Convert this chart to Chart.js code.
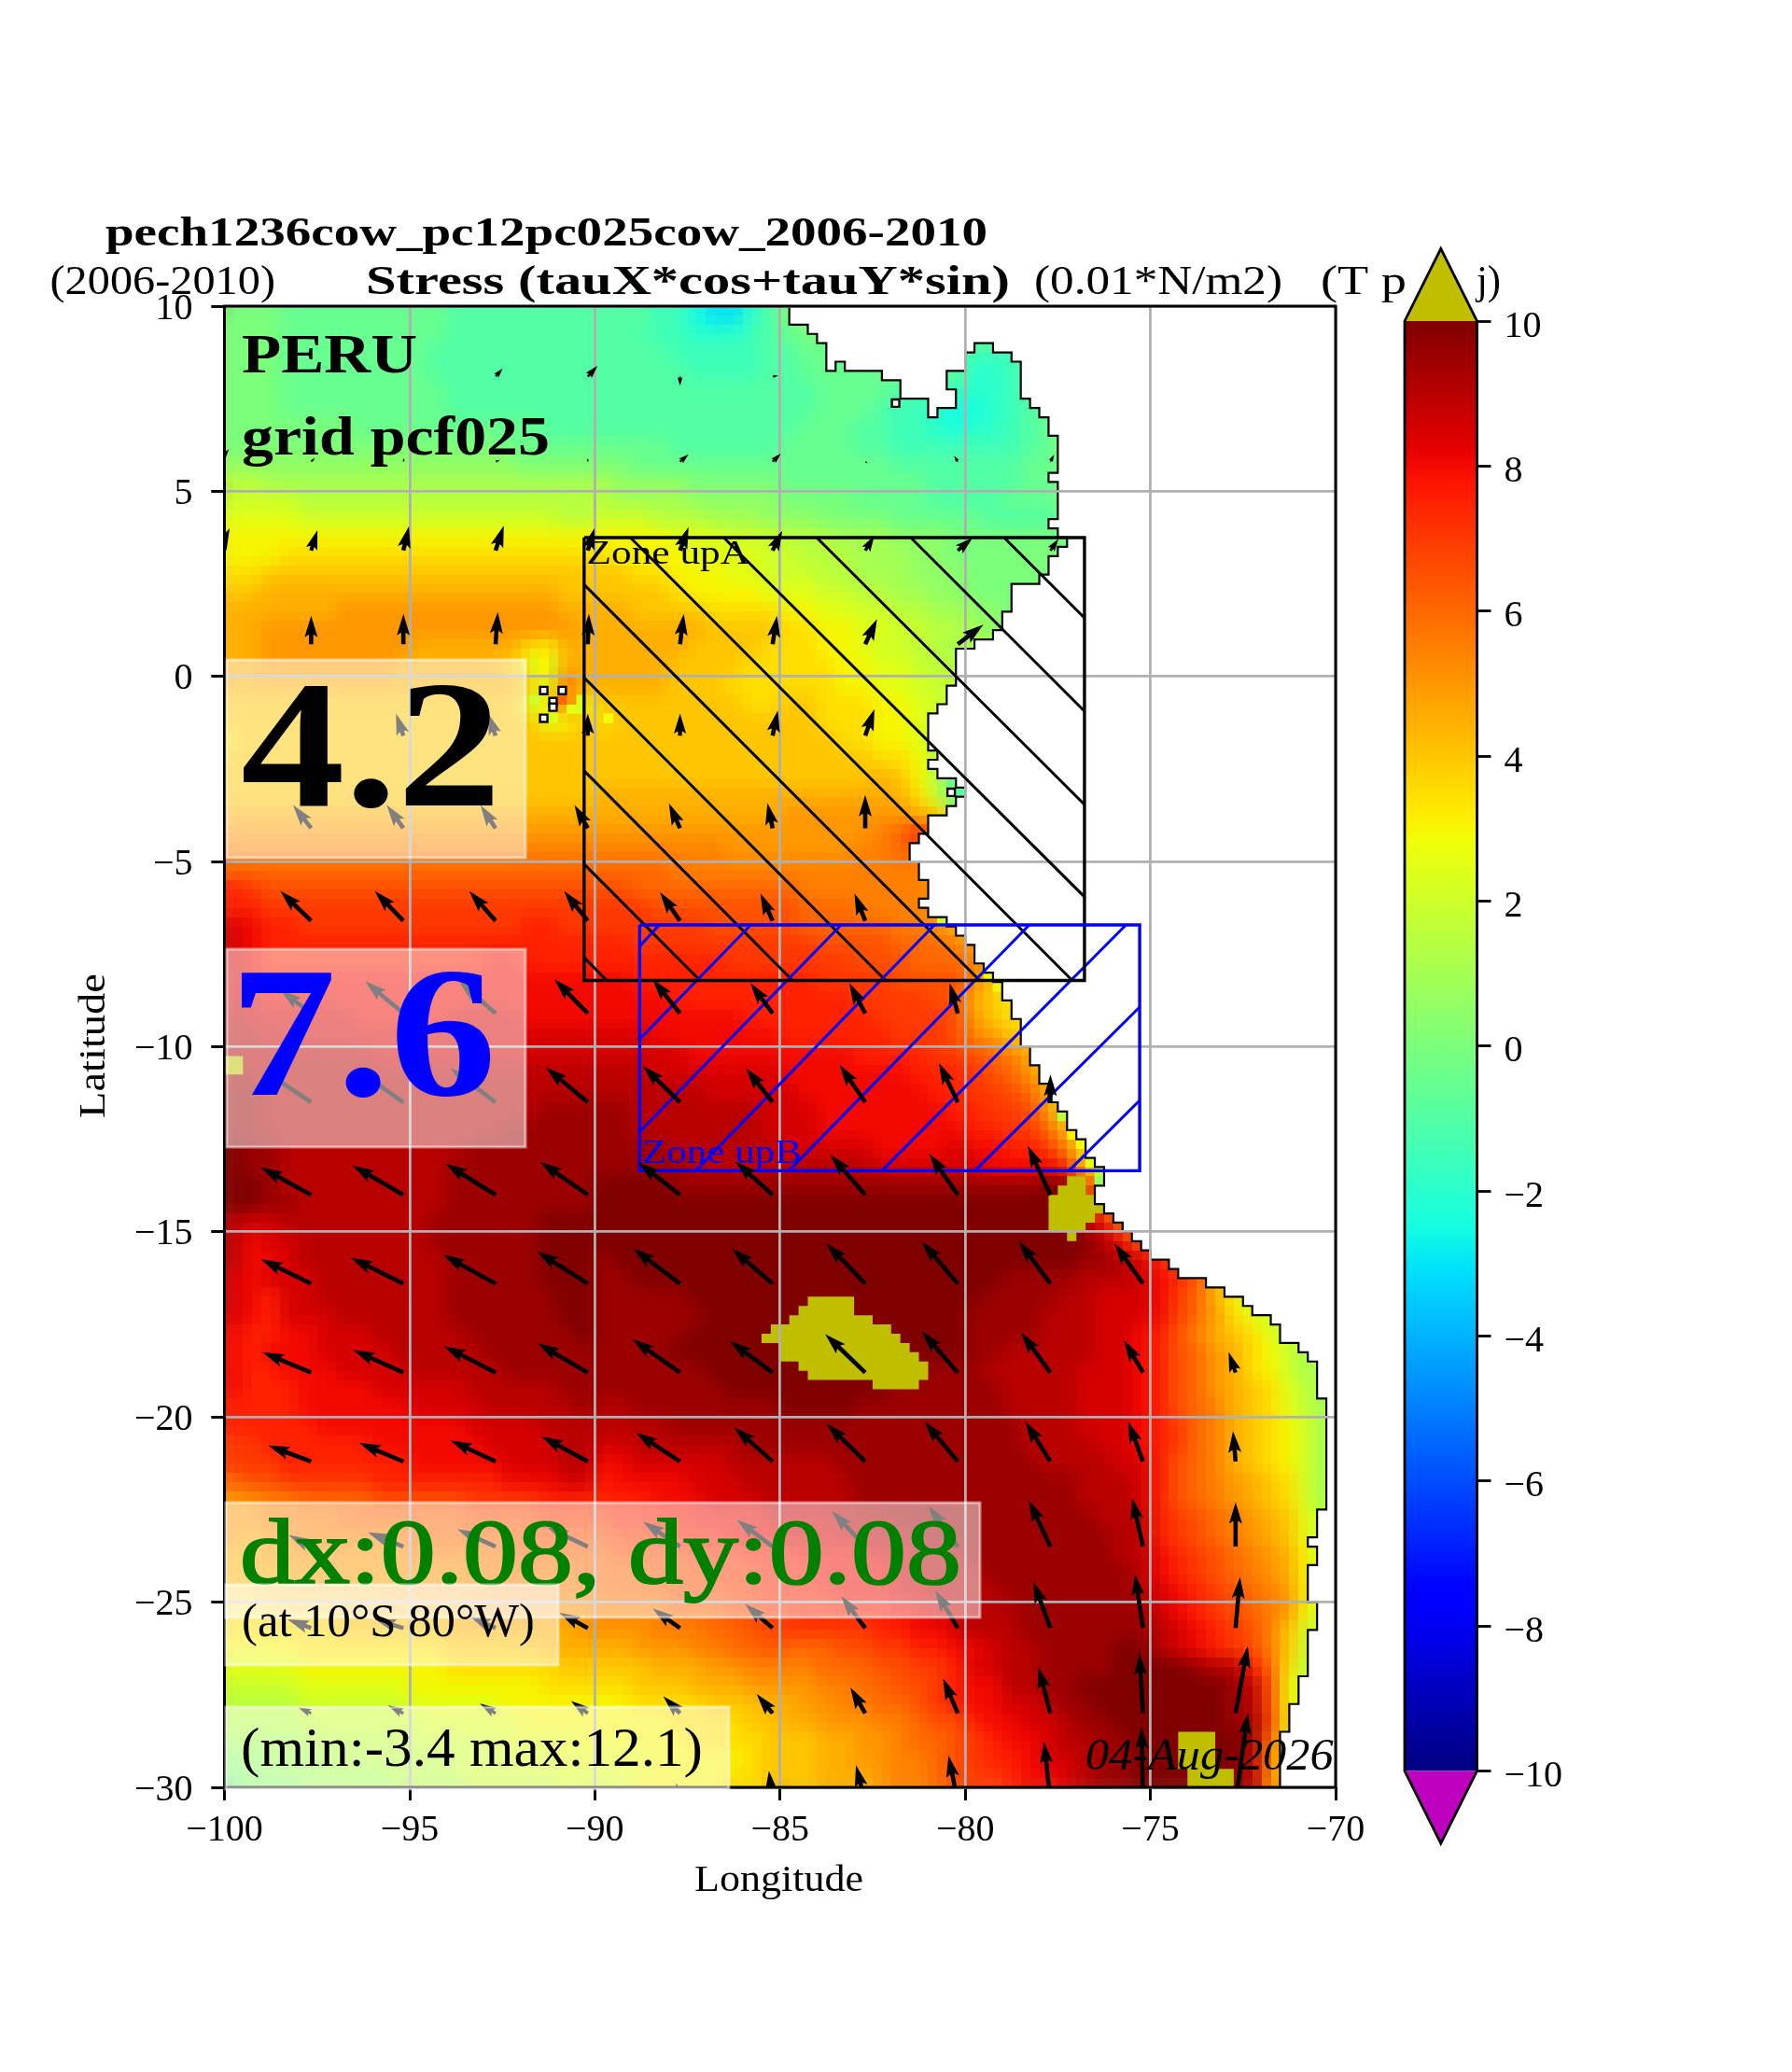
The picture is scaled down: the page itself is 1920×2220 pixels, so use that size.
<!DOCTYPE html>
<html><head><meta charset="utf-8">
<style>html,body{margin:0;padding:0;background:#fff}canvas{position:absolute;left:0;top:0}</style>
<script src="https://cdn.jsdelivr.net/npm/chart.js@4"></script></head>
<body>
<canvas id="main" width="1920" height="2220"></canvas>
<canvas id="cbar" width="1920" height="2220"></canvas>
<script>
// ---- field: one string per 0.5 degree latitude row (10N to 30S), one char per 0.5 degree longitude (100W eastward)
// char = base-36 digit, value = digit*0.5-4 (units 0.01 N/m2)
const fieldRows = [
"8887777777 7766666666 6665532246 8888888888",
"8887777777 7766666666 6665544456 7888888888",
"8887777777 7666666666 6666555556 6777777777 5556777777",
"8887777777 7666666666 6666655556 6777777777 4456778888",
"8887777777 7766666666 6666666666 6677776655 4456788999",
"8887777777 7766666666 6666666666 6677765543 3456788999",
"8888888777 7777777666 6666666666 6777665543 4456788999",
"8888888888 8888877777 7777666666 7777665555 5556788999",
"9999999999 9999998888 8877777777 7777776666 6667788999",
"bbaaaaaaaa aaaaaaaaaa a999988888 7777777766 6667788999",
"ccccbbbbbb bbbbbbbbbb baaaa99999 8888777766 6677788999",
"ddddcccccc ccccccccbb cccbbbaaa9 9988887777 7666677889 9",
"eeeeeeeeee eeeeeeeeee eeeedddccc bbbaaa9998 8888888899 9",
"eeefffffff ffffffffff feeeeddddc cbbbaaa998 8888888899",
"ffgggggggg gggggggggg ggffeeeddc ccbbaaa999 8888888899",
"gghhhhhhhh hhhhhhhhgg ggggfeeeed ddccbbaa99 8888888889",
"hhhhhhiiii iiiiiiiihh hhggggffff eeddccbbaa 9988888",
"hhiiiiiiii iiiiiiiiih hhhhhhgggg ffeeddccbb a988888",
"hhiiiiiiii hhhhhhfehh hhhhhggggf ffeedccbba a",
"hhiiiiiiih hhhhhgdchh hhhhggggff fffeeddcbb a",
"hhhhhhhhhh hhhhhhgdkh hhhhgggfff fffeeddccb a",
"gggggggggg ggggggcekd ggggggggff ggfffeedcb a",
"gggggggggg gggggggdeg fggggggggg ggfffeedcb a",
"fggggggggg gggggggggg gggggggggg gggffeedb9 8",
"gggggggggg gggggggggg gggggggggg gggggffeb8 7",
"gggggggggg gggggggggg gggggggggg ggggghgeb6 6",
"gggggggggg gggggggggg hhhhhhhhhh hhhhhhhfc6 5",
"hhhhhhhhhh hhhhhhhhhh hhhhhhhhhh iiiiiiihgd 8",
"iiiiiiiiii iiiiiiiiii iiiiiiiiii iiiiijknki i",
"jjjjjjjjjj jjjjjjjjjj jjjjjjjiii iiiijjkkih h",
"kkkkkkkkkk kkkkkkkkkk kkkkjjjjjj jjjjjjjjih h",
"nmllllllll llllllllll llkkkkkkkk kjjjjjjjig g",
"nnmmmmmmmm mmmmmmmmmm mmmlllllll lkkkjjjjif f",
"ponnmmmmmm mmmmmmnnmm mmmmmmllll lkkkkkjjih d",
"ponnnnnnnn nnnnnnnnnn nnmmmmmmmm mmllllkkkj igg",
"ponnnnnnnn nnnnoonnnn nnnnnnnmmm mmmmlllkkk jhee",
"ppoooooooo oooooooooo oonnnnnnnn nnmmmmllll jgee",
"ppoooooooo oooooooooo oooonnnnnn nnnnmmmmll hgee",
"qppppppooo ooppppoooo oooooooonn nnnnnmmmml igff",
"qqpppppppp pppppppppp pppooooooo nnnnnnmmml jigg",
"qqqqqqqqpp pppppppppp pppppooooo oooonnnnmm lkjhgg",
"rqqqqqqqqq qqqqqqqqqq qqqppppppp ooooooonnn mlkigg",
"rrqqqqqqqq qqqqqqqqqq qqqqqqpppp pooooooonn mmlkhg",
"rrqqqqqqqq qqqqqqqrrr rrqqqqqqqp ppooooooon nmmlicc",
"rrqqqqqqqq qqqqqrrrrr rrqqqqqqqp ppoooooooo nnmmkhe",
"srrqqqqqqq qqqrrrrrrr rrrrqqqqqq pppppoooop oonnmjecc",
"srrqqqqqqq qqrrrrrrrr rrrrrqqqqq qqqqqppppp poooongcc",
"ssrqqqqqqq qqrrrrrrrr ssssrrrrrr rrrrrrrrrr rrrrssnfbb",
"ssrrqqqqqq qqrrrrrrrr ssssssssss ssssssssss sssssssiff",
"qppqqqqqqq qrrrrrrsss ssssssssss ssssssssss ssssssqojf",
"qoppqqqqqq qrrrrrrsss ssssssssss ssssssssss sssssssqok k",
"qoopqqqqqq qqrrrrrsss rsssssssss ssssssssss ssssssrrqp nk",
"popppqqqqq qqrrrrrsss rrssssssss ssssssssss ssrrrrqqqp onlh",
"ponppqqqqq qqrrrrrrss rrrrrsssss ssssssssss srrrrqqppp omkhecbbbb",
"ponpppqqqq qqrrrrrrss rrrrrrssss ssssssssss rrrrqqqppp omkifdcbbb",
"onnoopppqq qqqrrrrrrs rrrrrsssss ssssssssss rrrrqqqppo nljhgfdbbb",
"onoooppppq qqqqrrrrrr rrrrssssss ssssssssss rrqqqqqppo nlkihfecab",
"onnooopppp qqqqqrrrrr rrrrrrssss ssssssssrr rqqqqqpppo nlkihfecab",
"onnnoooopp pppqqqqqrr rrrrrrrsss ssssssrrrr rrqqqqpppo nlkihgfdba",
"nnnnoooooo ppppqqqqqr qqrrrrrrrr ssssrrrrrr rrqqqqpppo nlkjhgfdba",
"nnnnnooooo oooppppqqq qqqqrrrrrr rrrrrrrrrr rrrqqqpppo nmkjhgfeca",
"mmnnnnnnoo ooooppppqq ppqqqqqqrr rrrrrrrrrr rrrqqqqppo nmkjhgfeca",
"mmmnnnnnnn ooooopppqq oopppppqqq qqqrrrrrrr rrrrqqqqpp nlkjhgfeca",
"kllmmmmmnn nnnnnooopp noooopppqq qqqqrrrrrr rrrrrrqqqp nlkjihgfca",
"iijjkkkkll lllmmmmnnn nnnooopppq qqqqrrrrrr rrrrrrqqqp nlkjihgfca",
"iijjjjkkkk kkkllllmmm mnnnnoooop pppqqqrrrr rrrrrrrqqq nmlkjihgdb",
"ihiijjjjjj kkkkkkllll lmmmnnnooo ppppqqqqrr rrrrrrrrqq nmlkjihgdb",
"hhiiiiiiii jjjjjkkkkk kllllmmmnn nooooppqqq rrrrrrrrqq onmlkjiheb",
"hhhhiiiiii iiijjjjjjk kkklllmmmn nnoooopqqq qrrrrrrrrq onmlkjiheb",
"gghhhhhhhi iiiiijjjjj kkkklllmmn nnnoooppqq qqrrrrrrrq ponmlkjieb",
"ffgggghhhh hhhiiiiiii jjjjkkkllm mnnnnnoopp qqqrrrrrrr ponmlkjieb",
"ffffffgggg gghhhhhhhi iiijjjkkll mmmmmnnoop qqqrrrrrrr qponmljgcb",
"eeeeffffff ffggggghhh hhiiijjkkl kkkllmmnno opqqrrrrss qponmljgcb",
"ddddeeeeee eeffffffgg ggghhhiijj jjkkkllmmn ppqqrrrrss ssrqqnkfbb",
"ccccdddddd eeeeeeefff ffggghhhii iijjkkllmn ooqqrrssss ssssrqlebb",
"bbbbcccccc dddddeeeee eeffffgggh hiijjkklmn ooppqrrsss ssssrqlebb",
"bbbbbccccc cdddddeeee eeeeffffgg hhiiijjkll nooppqrrss ssssrrmeab",
"aaaabbbbbb cccccdddde eeeeeffffg gghhiijkkl mnoopqqrrs sssssrkdab",
"99aaaabbbb bbccccdddd dddeeeeefg gghhiijjkl mnnoppqrrs sssssqjecc",
"8999aaaaab bbbcccccdd ddeeeeeffg gghhhijjkl mmnoopqrrs sssssqjecc"
];
// single 0.25 degree cells that stand out from their surroundings: [lon, lat, value]
const detailCells = [
[-91.63,-0.63,2],[-90.38,-0.63,2.2],[-90.38,-0.88,2.3],[-90.63,-0.88,2.6],[-91.13,-1.13,2.3],[-89.63,-1.13,2.8],
[-90.88,-0.63,6],[-90.88,-0.38,5.5],[-90.63,-0.38,5],[-90.63,-0.63,5],[-91.38,0.13,3],[-91.38,0.38,3],[-91.38,0.63,3.3],
[-80.63,-6.63,2],[-79.38,-8.13,2.8],[-79.13,-8.38,3],[-78.88,-8.88,3.5],[-77.38,-11.88,1.5],[-77.13,-12.38,3.2],[-76.88,-12.63,2.8],[-76.63,-13.13,2.5],[-76.38,-13.38,2],[-76.38,-13.63,0.8]
];
// ---- coastline (lon,lat pairs), ocean lies west of it
const coastLine = [
[-84.75,10],[-84.75,9.5],[-84.25,9.5],[-84.25,9.25],[-84,9.25],[-84,9],[-83.75,9],[-83.75,8.25],[-83.5,8.25],[-83.5,8.5],[-83.25,8.5],[-83.25,8.25],[-82.25,8.25],[-82.25,8],[-81.75,8],[-81.75,7.5],[-81,7.5],[-81,7],[-80.75,7],[-80.75,7.25],[-80.25,7.25],[-80.25,7.75],[-80.5,7.75],[-80.5,8.25],[-80,8.25],[-80,8.75],[-79.75,8.75],[-79.75,9],[-79.25,9],[-79.25,8.75],[-78.75,8.75],[-78.75,8.5],[-78.5,8.5],[-78.5,7.5],[-78.25,7.5],[-78.25,7.25],[-78,7.25],[-78,7],[-77.75,7],[-77.75,6.5],[-77.5,6.5],[-77.5,5.5],[-77.75,5.5],[-77.75,5.25],[-77.5,5.25],[-77.5,4.25],[-77.75,4.25],[-77.75,4],[-77.5,4],[-77.5,3.75],[-77.25,3.75],[-77.25,3.5],[-77.5,3.5],[-77.5,3.25],[-77.75,3.25],[-77.75,2.75],[-78,2.75],[-78,2.5],[-78.75,2.5],[-78.75,1.75],[-79,1.75],[-79,1.25],[-79.25,1.25],[-79.25,1],[-79.75,1],[-79.75,0.75],[-80.25,0.75],[-80.25,-0.25],[-80.5,-0.25],[-80.5,-0.75],[-80.75,-0.75],[-80.75,-1],[-81,-1],[-81,-2],[-80.75,-2],[-80.75,-2.25],[-81,-2.25],[-81,-2.5],[-80.75,-2.5],[-80.75,-2.75],[-80.25,-2.75],[-80.25,-3],[-80,-3],[-80,-3.25],[-80.25,-3.25],[-80.25,-3.5],[-80.5,-3.5],[-80.5,-3.75],[-81,-3.75],[-81,-4.25],[-81.25,-4.25],[-81.25,-4.5],[-81.5,-4.5],[-81.5,-5],[-81.25,-5],[-81.25,-5.5],[-81,-5.5],[-81,-6],[-81.25,-6],[-81.25,-6.25],[-81,-6.25],[-81,-6.5],[-80.5,-6.5],[-80.5,-6.75],[-80.25,-6.75],[-80.25,-7],[-80,-7],[-80,-7.25],[-79.75,-7.25],[-79.75,-7.75],[-79.5,-7.75],[-79.5,-8],[-79.25,-8],[-79.25,-8.25],[-79,-8.25],[-79,-8.75],[-78.75,-8.75],[-78.75,-9.25],[-78.5,-9.25],[-78.5,-10],[-78.25,-10],[-78.25,-10.5],[-78,-10.5],[-78,-11],[-77.75,-11],[-77.75,-11.5],[-77.5,-11.5],[-77.5,-11.75],[-77.25,-11.75],[-77.25,-12.25],[-77,-12.25],[-77,-12.5],[-76.75,-12.5],[-76.75,-13],[-76.5,-13],[-76.5,-13.25],[-76.25,-13.25],[-76.25,-13.75],[-76.5,-13.75],[-76.5,-14.25],[-76.25,-14.25],[-76.25,-14.5],[-76,-14.5],[-76,-14.75],[-75.75,-14.75],[-75.75,-15],[-75.5,-15],[-75.5,-15.25],[-75.25,-15.25],[-75.25,-15.5],[-75,-15.5],[-75,-15.75],[-74.5,-15.75],[-74.5,-16],[-74.25,-16],[-74.25,-16.25],[-73.5,-16.25],[-73.5,-16.5],[-73,-16.5],[-73,-16.75],[-72.5,-16.75],[-72.5,-17],[-72.25,-17],[-72.25,-17.25],[-71.75,-17.25],[-71.75,-17.5],[-71.5,-17.5],[-71.5,-18],[-71,-18],[-71,-18.25],[-70.75,-18.25],[-70.75,-18.5],[-70.5,-18.5],[-70.5,-19.5],[-70.25,-19.5],[-70.25,-22.5],[-70.5,-22.5],[-70.5,-23.25],[-70.75,-23.25],[-70.75,-23.5],[-70.5,-23.5],[-70.5,-24],[-70.75,-24],[-70.75,-25],[-70.5,-25],[-70.5,-25.75],[-70.75,-25.75],[-70.75,-27],[-71,-27],[-71,-27.75],[-71.25,-27.75],[-71.25,-28.5],[-71.5,-28.5],[-71.5,-30]
];
// isolated land cells (centres)
const islandCells = [[-91.38,-0.38],[-90.88,-0.38],[-91.13,-0.68],[-91.13,-0.83],[-91.38,-1.13],[-81.88,7.38],[-80.38,-3.13]];
// regions above the colour range (value > 10)
const overPatches = [
[[-84.25,-16.75],[-83,-16.75],[-83,-17.25],[-82.5,-17.25],[-82.5,-17.5],[-82,-17.5],[-82,-17.75],[-81.75,-17.75],[-81.75,-18],[-81.5,-18],[-81.5,-18.25],[-81.25,-18.25],[-81.25,-18.5],[-81,-18.5],[-81,-19],[-81.25,-19],[-81.25,-19.25],[-82.5,-19.25],[-82.5,-19],[-84.25,-19],[-84.25,-18.75],[-84.5,-18.75],[-84.5,-18.5],[-85,-18.5],[-85,-18],[-85.5,-18],[-85.5,-17.75],[-85.25,-17.75],[-85.25,-17.5],[-84.75,-17.5],[-84.75,-17.25],[-84.5,-17.25],[-84.5,-17],[-84.25,-17],[-84.25,-16.75]],
[[-77.25,-13.5],[-76.75,-13.5],[-76.75,-14],[-76.5,-14],[-76.5,-14.25],[-76.25,-14.25],[-76.25,-14.5],[-76.5,-14.5],[-76.5,-14.75],[-76.75,-14.75],[-76.75,-15],[-77,-15],[-77,-15.25],[-77.25,-15.25],[-77.25,-15],[-77.75,-15],[-77.75,-14],[-77.5,-14],[-77.5,-13.75],[-77.25,-13.75],[-77.25,-13.5]],
[[-74.25,-28.5],[-73.25,-28.5],[-73.25,-29.5],[-72.75,-29.5],[-72.75,-30],[-74,-30],[-74,-29.5],[-74.25,-29.5],[-74.25,-28.5]],
[[-100,-10.25],[-99.5,-10.25],[-99.5,-10.75],[-100,-10.75],[-100,-10.25]]
];
// zones and their hatching (lon,lat end points)
const zoneA = [[-90.29,3.75],[-76.78,3.75],[-76.78,-8.21],[-90.29,-8.21],[-90.29,3.75]];
const zoneB = [[-88.79,-6.71],[-75.29,-6.71],[-75.29,-13.35],[-88.79,-13.35],[-88.79,-6.71]];
const hatchA = [
[[-90.29,2.48],[-79.61,-8.21]],[[-90.29,-0.03],[-82.15,-8.21]],[[-90.29,-2.55],[-84.66,-8.21]],[[-90.29,-5.07],[-87.16,-8.21]],[[-90.29,-7.59],[-89.68,-8.21]],
[[-89.04,3.75],[-77.11,-8.21]],[[-86.52,3.75],[-76.78,-5.95]],[[-84.01,3.75],[-76.78,-3.46]],[[-81.47,3.75],[-76.78,-0.94]],[[-78.95,3.75],[-76.78,1.58]]
];
const hatchB = [
[[-88.79,-7.29],[-88.26,-6.71]],[[-88.79,-9.8],[-85.79,-6.71]],[[-88.79,-12.3],[-83.35,-6.71]],[[-87.28,-13.35],[-80.83,-6.71]],
[[-84.76,-13.35],[-78.27,-6.71]],[[-82.25,-13.35],[-75.66,-6.71]],[[-79.74,-13.35],[-75.29,-8.93]],[[-77.2,-13.35],[-75.29,-11.45]]
];
// ---- wind-stress arrows: tails at arrowLons x arrowLats, vector (dlon,dlat) in degrees
const arrowLons = [-100.14,-97.66,-95.17,-92.68,-90.19,-87.7,-85.2,-82.7,-80.2,-77.7,-75.2,-72.7];
const arrowLats = [8.1,5.8,3.4,0.87,-1.6,-4.1,-6.6,-9.1,-11.5,-14,-16.4,-18.8,-21.2,-23.5,-25.7,-28,-30.4];
const arrowVectors = [
[[.05,.05],null,null,[.19,.21],[.26,.29],[0,-.25],[.15,.02]],
[[.26,.34],[.1,.1],[.02,.1],[.12,.05],[0,.1],[.23,.2],[.22,.22],[.07,-.05],[-.1,.16],[.1,.19]],
[[.28,.6],[.17,.55],[.15,.65],[.22,.67],[.18,.6],[.23,.63],[.26,.53],[.25,.4],[.4,.34],[.22,.32]],
[[0,.7],[0,.77],[0,.82],[.06,.87],[.03,.82],[.1,.82],[.12,.77],[.32,.68],[.69,.53]],
[[-.1,.5],[-.25,.55],[-.2,.6],[-.2,.6],[0,.6],[0,.6],[.14,.68],[.25,.72]],
[[-.5,.6],[-.49,.63],[-.45,.63],[-.41,.63],[-.36,.63],[-.3,.67],[-.14,.68],[0,.9]],
[null,[-.83,.8],[-.77,.8],[-.71,.8],[-.64,.8],[-.54,.77],[-.33,.74],[-.29,.74]],
[null,[-.83,.63],[-1.03,.87],[-.99,.87],[-.9,.92],[-.74,.92],[-.6,.82],[-.43,.82],[-.22,.82]],
[null,[-1.26,.85],[-1.2,.85],[-1.22,.92],[-1.13,.94],[-1,.98],[-.72,.92],[-.69,1.01],[-.51,1.06],[0,.75]],
[null,[-1.35,.74],[-1.37,.79],[-1.35,.84],[-1.28,.89],[-1.13,.88],[-1,.9],[-.94,1.08],[-.77,1.11],[-.61,1.32]],
[null,[-1.35,.66],[-1.41,.7],[-1.41,.78],[-1.37,.87],[-1.26,.95],[-1.1,.95],[-1.05,1.09],[-.97,1.14],[-.85,1.14],[-.77,1.09]],
[null,[-1.31,.55],[-1.35,.61],[-1.39,.71],[-1.35,.79],[-1.28,.9],[-1.15,.85],[-1.08,1.04],[-.97,1.11],[-.79,1.08],[-.51,.87],[-.19,.55]],
[null,[-1.16,.43],[-1.19,.5],[-1.22,.57],[-1.25,.68],[-1.19,.78],[-1.04,.92],[-1.04,1.02],[-.9,1.08],[-.68,1.08],[-.4,1.08],[-.07,.82]],
[null,[-.6,.31],[-.96,.39],[-1.03,.47],[-1.09,.52],[-1,.68],[-.97,.73],[-.9,.97],[-.79,1.1],[-.58,1.25],[-.29,1.31],[0,1.2]],
[null,[-.64,.24],[-.77,.24],[-.71,.33],[-.77,.42],[-.74,.53],[-.75,.66],[-.65,.87],[-.61,1.02],[-.46,1.25],[-.22,1.46],[.12,1.38]],
[null,[-.35,.16],[-.41,.21],[-.42,.26],[-.45,.33],[-.45,.46],[-.43,.52],[-.4,.7],[-.4,.94],[-.32,1.25],[-.1,1.62],[.33,1.81]],
[null,[-.05,.3],[-.05,.3],[-.08,.35],[-.1,.4],[-.1,.52],[-.1,.85],[-.25,1],[-.25,1.26],[-.17,1.63],[-.04,2.03],[.33,2.41]]
];
// ---- tick labels / texts
const lonTicks = [-100,-95,-90,-85,-80,-75,-70];
const latTicks = [10,5,0,-5,-10,-15,-20,-25,-30];
const cbarTicks = [10,8,6,4,2,0,-2,-4,-6,-8,-10];
const SERIF = '"Liberation Serif"';
const titles = [
 {t:'pech1236cow_pc12pc025cow_2006-2010',a:113,b:1058,y:263,f:'bold 44px '+SERIF,c:'#000'},
 {t:'(2006-2010)',a:53.5,b:295,y:315,f:'44px '+SERIF,c:'#000'},
 {t:'Stress (tauX*cos+tauY*sin)',a:392,b:1082,y:315,f:'bold 44px '+SERIF,c:'#000'},
 {t:'(0.01*N/m2)',a:1108,b:1374,y:315,f:'44px '+SERIF,c:'#000'},
 {t:'(T p',a:1415,b:1507,y:315,f:'44px '+SERIF,c:'#000'},
 {t:'j)',a:1582,b:1608,y:315,f:'44px '+SERIF,c:'#000'},
 {t:'Longitude',a:744,b:925,y:2026,f:'40px '+SERIF,c:'#000'},
 {t:'Latitude',a:1198,b:1043,y:112,f:'40px '+SERIF,c:'#000',vertical:true}
];
const zoneLabels = [
 {t:'Zone upA',a:628.6,b:803,y:604,f:'36px '+SERIF,c:'#000'},
 {t:'Zone upB',a:688,b:859,y:1246,f:'36px '+SERIF,c:'#0000ff'}
];
const plainLabels = [
 {t:'PERU',a:259,b:447,y:399,f:'bold 60px '+SERIF,c:'#000'},
 {t:'grid pcf025',a:259,b:589,y:487,f:'bold 60px '+SERIF,c:'#000'},
 {t:'04-Aug-2026',a:1163,b:1428.6,y:1896,f:'italic 48px '+SERIF,c:'#000'}
];
const boxedLabels = [
 {t:'4.2',a:258,b:537,y:863,f:'bold 196px '+SERIF,c:'#000',box:[243,707,563,919]},
 {t:'7.6',a:246,b:532,y:1173,f:'bold 200px '+SERIF,c:'#0000ff',box:[243,1017,563,1229]},
 {t:'dx:0.08, dy:0.08',a:257,b:1030,y:1696,f:'100px '+SERIF,c:'#008000',sw:2,box:[242,1610,1050,1733]},
 {t:'(at 10°S 80°W)',a:259,b:573,y:1753,f:'50px '+SERIF,c:'#000',box:[242,1698,598,1784]},
 {t:'(min:-3.4 max:12.1)',a:258,b:753,y:1892,f:'60px '+SERIF,c:'#000',box:[242,1829,781,1917]}
];

// ---- colour map (jet)
function seg(p,t){for(let i=1;i<p.length;i++){if(t<=p[i][0]){const a=p[i-1],b=p[i];return a[1]+(b[1]-a[1])*(t-a[0])/(b[0]-a[0]);}}return p[p.length-1][1];}
const R=[[0,0],[.35,0],[.66,1],[.89,1],[1,.5]],G=[[0,0],[.125,0],[.375,1],[.64,1],[.91,0],[1,0]],B=[[0,.5],[.11,1],[.34,1],[.65,0],[1,0]];
function jet(v){const t=Math.max(0,Math.min(1,(v+10)/20));return `rgb(${Math.round(seg(R,t)*255)},${Math.round(seg(G,t)*255)},${Math.round(seg(B,t)*255)})`;}

// ---- build datasets
const fieldPoints=[];
fieldRows.forEach((s,r)=>{let row=s.replace(/ /g,'');while(row.length<60)row+=row[row.length-1];
  for(let j=0;j<60;j++)fieldPoints.push({x:-100+.25+.5*j,y:10-.25-.5*r,v:parseInt(row[j],36)*.5-4});});
const toXY=a=>a.map(p=>({x:p[0],y:p[1]}));
const gapped=l=>{const o=[];l.forEach(s=>{o.push(...toXY(s),{x:NaN,y:NaN});});return o;};
const arrowPts=[];
arrowVectors.forEach((row,r)=>row.forEach((v,c)=>{if(v)arrowPts.push({x:arrowLons[c],y:arrowLats[r],dx:v[0],dy:v[1]});}));
const lineDs=(id,data,color,w,order)=>({id,type:'scatter',data,showLine:true,borderColor:color,borderWidth:w,pointRadius:0,tension:0,fill:false,order,spanGaps:false});

function fit(ctx,o){ctx.save();ctx.font=o.f;ctx.fillStyle=o.c;ctx.textBaseline='alphabetic';ctx.textAlign='left';
  const w=ctx.measureText(o.t).width;
  if(o.vertical){ctx.translate(o.y,o.a);ctx.rotate(-Math.PI/2);ctx.scale((o.a-o.b)/w,1);}
  else{ctx.translate(o.a,o.y);ctx.scale((o.b-o.a)/w,1);}
  ctx.fillText(o.t,0,0);
  if(o.sw){ctx.strokeStyle=o.c;ctx.lineWidth=o.sw;ctx.strokeText(o.t,0,0);}
  ctx.restore();}

const off=document.createElement('canvas');off.width=120;off.height=160;
const mapPlugin={id:'mapLayers',
 afterDatasetDraw(chart,args){
  const ds=chart.data.datasets[args.index],ctx=chart.ctx,a=chart.chartArea,X=chart.scales.x,Y=chart.scales.y;
  if(ds.id==='field'){
    ctx.save();ctx.beginPath();ctx.rect(a.left,a.top,a.width,a.height);ctx.clip();
    ctx.filter='blur(9px)';ctx.drawImage(ctx.canvas,0,0);ctx.filter='none';
    const oc=off.getContext('2d');oc.imageSmoothingEnabled=true;oc.clearRect(0,0,120,160);
    oc.drawImage(ctx.canvas,a.left,a.top,a.width,a.height,0,0,120,160);
    ctx.imageSmoothingEnabled=false;ctx.drawImage(off,a.left,a.top,a.width,a.height);ctx.imageSmoothingEnabled=true;
    // land
    ctx.fillStyle='#fff';ctx.beginPath();
    coastLine.forEach((p,i)=>{const x=X.getPixelForValue(p[0]),y=Y.getPixelForValue(p[1]);i?ctx.lineTo(x,y):ctx.moveTo(x,y);});
    ctx.lineTo(X.getPixelForValue(-70),Y.getPixelForValue(-30));ctx.lineTo(X.getPixelForValue(-70),Y.getPixelForValue(10));ctx.closePath();ctx.fill();
    ctx.restore();
  }
  if(ds.id==='coast'){ctx.save();X.drawGrid(a);Y.drawGrid(a);ctx.restore();}
  if(ds.id==='arrows'){
    ctx.save();ctx.beginPath();ctx.rect(a.left,a.top,a.width,a.height);ctx.clip();ctx.fillStyle='#000';
    ds.data.forEach(p=>{
      const x1=X.getPixelForValue(p.x),y1=Y.getPixelForValue(p.y),x2=X.getPixelForValue(p.x+p.dx),y2=Y.getPixelForValue(p.y+p.dy);
      const L=Math.hypot(x2-x1,y2-y1);if(!L)return;
      let w=4.6,hl=23,hw=14,ha=20;const k=Math.min(1,L/(hl*1.1));w*=k;hl*=k;hw*=k;ha*=k;
      ctx.save();ctx.translate(x1,y1);ctx.rotate(Math.atan2(y2-y1,x2-x1));
      ctx.beginPath();ctx.moveTo(0,-w/2);ctx.lineTo(L-ha,-w/2);ctx.lineTo(L-hl,-hw/2);ctx.lineTo(L,0);ctx.lineTo(L-hl,hw/2);ctx.lineTo(L-ha,w/2);ctx.lineTo(0,w/2);ctx.closePath();ctx.fill();
      ctx.restore();
    });
    ctx.restore();
  }
 },
 afterDatasetsDraw(chart){
  const ctx=chart.ctx,a=chart.chartArea;
  ctx.save();ctx.strokeStyle='#000';ctx.lineWidth=3;ctx.strokeRect(a.left,a.top,a.width,a.height);ctx.restore();
  titles.forEach(o=>fit(ctx,o));
  zoneLabels.forEach(o=>fit(ctx,o));
  plainLabels.forEach(o=>fit(ctx,o));
  boxedLabels.forEach(o=>{const b=o.box;ctx.save();ctx.fillStyle='rgba(255,255,255,.5)';ctx.fillRect(b[0],b[1],b[2]-b[0],b[3]-b[1]);
    ctx.strokeStyle='rgba(255,255,255,.5)';ctx.lineWidth=3;ctx.strokeRect(b[0],b[1],b[2]-b[0],b[3]-b[1]);ctx.restore();fit(ctx,o);});
 }};

const minus=v=>String(v).replace('-','\u2212');
const axisCommon={type:'linear',grid:{color:'#b0b0b0',lineWidth:2.8,tickColor:'#000',tickWidth:2.8,tickLength:14,z:-1},border:{display:false}};
const quarterRadius=(c,k)=>{const s=c.chart.scales.x;return Math.abs(s.getPixelForValue(k)-s.getPixelForValue(0))*Math.SQRT2;};
new Chart(document.getElementById('main'),{
 type:'scatter',
 data:{datasets:[
  {id:'field',label:'Stress',data:fieldPoints,order:100,pointStyle:'rect',borderWidth:0,pointBorderWidth:0,hoverRadius:0,
   pointBackgroundColor:c=>jet(c.raw.v),backgroundColor:'transparent',
   pointRadius:c=>quarterRadius(c,.25)+.9},
  {id:'detail',data:detailCells.map(p=>({x:p[0],y:p[1],v:p[2]})),order:95,pointStyle:'rect',pointBorderWidth:0,
   pointBackgroundColor:c=>jet(c.raw.v),pointRadius:c=>quarterRadius(c,.125)+.3},
  ...overPatches.map((p,i)=>({id:'over'+i,type:'scatter',data:toXY(p),showLine:true,borderWidth:0,pointRadius:0,tension:0,fill:'shape',backgroundColor:'#bfbf00',borderColor:'#bfbf00',order:90})),
  {id:'islands',data:toXY(islandCells),order:85,pointStyle:'rect',pointBackgroundColor:'#fff',pointBorderColor:'#000',pointBorderWidth:2.4,
   pointRadius:c=>quarterRadius(c,.1)},
  lineDs('coast',toXY(coastLine),'#000',2.2,80),
  lineDs('hatchA',gapped(hatchA),'#000',3,50),
  lineDs('hatchB',gapped(hatchB),'#0000ff',3,49),
  lineDs('zoneA',toXY(zoneA),'#000',3.4,40),
  lineDs('zoneB',toXY(zoneB),'#0000ff',3.4,39),
  {id:'arrows',data:arrowPts,order:10,pointRadius:0,showLine:false}
 ]},
 plugins:[mapPlugin],
 options:{responsive:false,animation:false,devicePixelRatio:1,events:[],
  layout:{padding:{top:328,right:489,left:0,bottom:0}},
  plugins:{legend:{display:false},tooltip:{enabled:false},title:{display:false}},
  scales:{
   x:{...axisCommon,position:'bottom',min:-100,max:-70,
      afterBuildTicks:s=>{s.ticks=lonTicks.map(v=>({value:v}));},
      afterFit:s=>{s.height=305;},
      ticks:{font:{family:'Liberation Serif',size:40},color:'#000',padding:8,maxRotation:0,autoSkip:false,callback:minus}},
   y:{...axisCommon,position:'left',min:-30,max:10,
      afterBuildTicks:s=>{s.ticks=latTicks.map(v=>({value:v}));},
      afterFit:s=>{s.width=240.5;},
      ticks:{font:{family:'Liberation Serif',size:40},color:'#000',padding:20,labelOffset:3,autoSkip:false,callback:minus}}
  }}
});

// ---- colour bar, with its own value axis
const cbarStops=[-10,-9,-8,-7,-6,-5,-4,-3,-2,-1,0,1,2,3,4,5,6,7,7.8,8,9,10];
const cbarPlugin={id:'cbar',beforeDatasetsDraw(chart){
  const ctx=chart.ctx,a=chart.chartArea,Y=chart.scales.y,yTop=Y.getPixelForValue(10),yBot=Y.getPixelForValue(-10);
  const ext=(yBot-yTop)*.05,mid=(a.left+a.right)/2;
  const g=ctx.createLinearGradient(0,yBot,0,yTop);
  for(let i=0;i<=100;i++){g.addColorStop(i/100,jet(-10+i*.2));}
  ctx.save();ctx.fillStyle=g;ctx.fillRect(a.left,yTop,a.width,yBot-yTop);
  ctx.fillStyle='#bfbf00';ctx.beginPath();ctx.moveTo(a.left,yTop);ctx.lineTo(mid,yTop-ext);ctx.lineTo(a.right,yTop);ctx.closePath();ctx.fill();
  ctx.fillStyle='#bf00bf';ctx.beginPath();ctx.moveTo(a.left,yBot);ctx.lineTo(mid,yBot+ext);ctx.lineTo(a.right,yBot);ctx.closePath();ctx.fill();
  ctx.strokeStyle='#000';ctx.lineWidth=2.8;ctx.lineJoin='miter';ctx.beginPath();
  ctx.moveTo(a.left,yTop);ctx.lineTo(mid,yTop-ext);ctx.lineTo(a.right,yTop);ctx.lineTo(a.right,yBot);ctx.lineTo(mid,yBot+ext);ctx.lineTo(a.left,yBot);ctx.closePath();ctx.stroke();
  ctx.restore();
}};
new Chart(document.getElementById('cbar'),{
 type:'scatter',
 data:{datasets:[{label:'colour scale',data:cbarStops.map(v=>({x:.5,y:v})),pointRadius:0,showLine:false}]},
 plugins:[cbarPlugin],
 options:{responsive:false,animation:false,devicePixelRatio:1,events:[],
  layout:{padding:{left:1505,top:344,right:237.5,bottom:322.5}},
  plugins:{legend:{display:false},tooltip:{enabled:false}},
  scales:{
   x:{type:'linear',display:false,min:0,max:1},
   y:{type:'linear',position:'right',min:-10,max:10,
      afterBuildTicks:s=>{s.ticks=cbarTicks.map(v=>({value:v}));},
      afterFit:s=>{s.width=100;},
      grid:{drawOnChartArea:false,drawTicks:true,tickLength:15,tickColor:'#000',tickWidth:2.8,color:'#000'},border:{display:false},
      ticks:{font:{family:'Liberation Serif',size:40},color:'#000',padding:14,labelOffset:6,autoSkip:false,callback:minus}}
  }}
});
</script>
</body></html>
